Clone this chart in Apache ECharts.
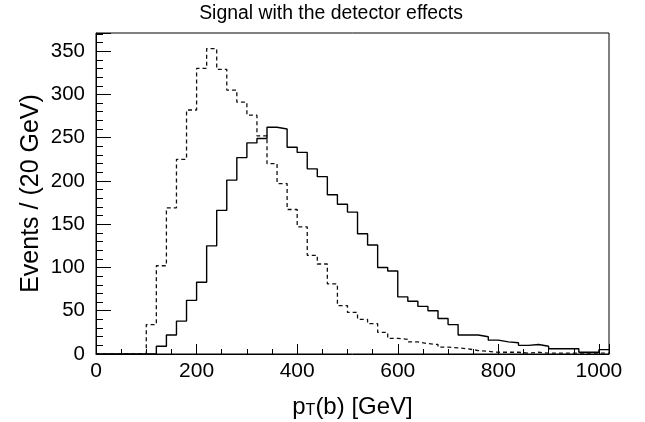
<!DOCTYPE html>
<html>
<head>
<meta charset="utf-8">
<script src="https://cdn.jsdelivr.net/npm/echarts@6/dist/echarts.min.js"></script>
<style>
html,body{margin:0;padding:0;background:#fff;}
#chart{width:645px;height:422px;}
</style>
</head>
<body>
<div id="chart"></div>
<script>
// Bin lower edges (GeV), bin width 20 GeV
var binLow = [0,20,40,60,80,100,120,140,160,180,200,220,240,260,280,300,320,340,360,380,400,
  420,440,460,480,500,520,540,560,580,600,620,640,660,680,700,720,740,760,780,800,
  820,840,860,880,900,920,940,960,980,1000];
var binUpperEnd = 1020;
// Solid histogram (with detector effects)
var solidCounts = [0,0,0,0,0,0,9,22,38,62,83,125,166,201,227,244,249,262,260,239,233,
  214,205,184,173,164,139,126,100,96,66,61,55,50,41,34,22,22,20,16,14,
  13,10,11,9,6,6,6,2,2,5];
// Dashed histogram
var dashedCounts = [0,0,0,0,0,34,102,169,225,282,330,353,329,305,291,276,252,220,197,167,147,
  114,104,81,56,48,40,35,25,18,17,14,12,11,8,7,6,4,3,2,2,
  2,1,2,1,1,1,1,1,1,1];
var xTickLabels = [0,200,400,600,800,1000];
var yTickLabels = [0,50,100,150,200,250,300,350];

var titleText = 'Signal with the detector effects';
var yTitle = 'Events / (20 GeV)';

function toSteps(counts){
  var d = [];
  for (var i = 0; i < binLow.length; i++) d.push([binLow[i], counts[i]]);
  d.push([binUpperEnd, counts[counts.length-1]]);
  return d;
}

var FONT = '"Liberation Sans", Arial, Helvetica, sans-serif';
var chart = echarts.init(document.getElementById('chart'), null, {renderer:'canvas'});
chart.setOption({
  animation:false,
  backgroundColor:'#fff',
  textStyle:{fontFamily:FONT},
  graphic:[{
    type:'text', x:331, y:14,
    style:{text:titleText, fill:'#000', font:'19.4px ' + FONT, textAlign:'center', textVerticalAlign:'middle'}
  }],
  grid:{left:96, right:36, top:33, bottom:68, outerBoundsMode:'none', containLabel:false,
    show:true, borderColor:'#000', borderWidth:1, backgroundColor:'rgba(0,0,0,0)'},
  xAxis:[{
    type:'value', min:0, max:binUpperEnd, interval:200, position:'bottom',
    axisLine:{show:true, onZero:false, lineStyle:{color:'#000', width:1}},
    axisTick:{show:true, inside:true, length:10, lineStyle:{color:'#000', width:1}},
    axisLabel:{show:true, margin:7, color:'#000', fontSize:21, fontFamily:FONT,
      showMaxLabel:true,
      formatter:function(v){ return xTickLabels.indexOf(v) >= 0 ? String(v) : ''; }},
    splitLine:{show:false},
    name:'{p|p}{sub|T}{p|(b) [GeV]}', nameLocation:'middle', nameGap:41,
    nameTextStyle:{rich:{
      p:{fontSize:24, fontFamily:FONT, color:'#000', lineHeight:24, verticalAlign:'top', padding:[0,0,6,0]},
      sub:{fontSize:16, fontFamily:FONT, color:'#000', lineHeight:16, verticalAlign:'bottom'}
    }}
  },{
    type:'value', min:0, max:binUpperEnd, interval:50, position:'bottom', offset:0,
    axisLine:{show:false},
    axisTick:{show:true, inside:true, length:5, lineStyle:{color:'#000', width:1}},
    axisLabel:{show:false}, splitLine:{show:false}
  }],
  yAxis:[{
    type:'value', min:0, max:371, interval:50, position:'left',
    axisLine:{show:true, onZero:false, lineStyle:{color:'#000', width:1}},
    axisTick:{show:true, inside:true, length:15, lineStyle:{color:'#000', width:1}},
    axisLabel:{show:true, margin:11, color:'#000', fontSize:20.5, fontFamily:FONT,
      formatter:function(v){ return yTickLabels.indexOf(v) >= 0 ? String(v) : ''; }},
    splitLine:{show:false},
    name:yTitle, nameLocation:'middle', nameGap:52, nameRotate:90, nameMoveOverlap:false,
    nameTextStyle:{fontSize:25, fontFamily:FONT, color:'#000'}
  },{
    type:'value', min:0, max:371, interval:10, position:'left', offset:0,
    axisLine:{show:false},
    axisTick:{show:true, inside:true, length:7, lineStyle:{color:'#000', width:1}},
    axisLabel:{show:false}, splitLine:{show:false}
  }],
  series:[{
    type:'line', step:'end', xAxisIndex:0, yAxisIndex:0, symbol:'none',
    data:toSteps(dashedCounts),
    lineStyle:{color:'#111', width:1.3, type:[4,3]}
  },{
    type:'line', step:'end', xAxisIndex:0, yAxisIndex:0, symbol:'none',
    data:toSteps(solidCounts),
    lineStyle:{color:'#000', width:1.4, type:'solid'}
  }]
});
</script>
</body>
</html>
